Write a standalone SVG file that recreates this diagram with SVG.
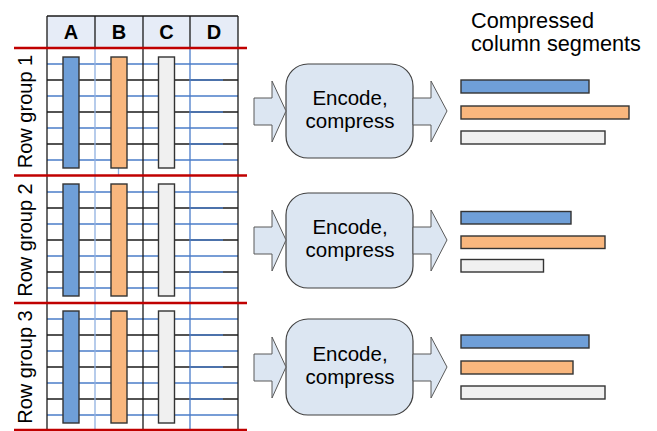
<svg xmlns="http://www.w3.org/2000/svg" width="657" height="431" viewBox="0 0 657 431">
<style>
.hdr{fill:#e6ecf7;stroke:none}
.blk{stroke:#1a1a1a;stroke-width:1.3}
.lb{stroke:#8fb0e0;stroke-width:1.3}
.db{stroke:#4a7cc9;stroke-width:1.3}
.red{stroke:#c00000;stroke-width:2.5}
.a{fill:#6f9fd8;stroke:#333;stroke-width:1.4}
.b{fill:#f9b77e;stroke:#333;stroke-width:1.4}
.c{fill:#f0f0f0;stroke:#333;stroke-width:1.4}
.col{font-family:"Liberation Sans",Arial,sans-serif;font-weight:bold;font-size:20px;text-anchor:middle;fill:#000}
.rg{font-family:"Liberation Sans",Arial,sans-serif;font-size:20px;text-anchor:middle;fill:#000}
.box{fill:#dce6f2;stroke:#404040;stroke-width:1.2}
.bt{font-family:"Liberation Sans",Arial,sans-serif;font-size:20.5px;text-anchor:middle;fill:#000}
.arr{fill:#dce6f2;stroke:#595959;stroke-width:1}
.title{font-family:"Liberation Sans",Arial,sans-serif;font-size:21.7px;fill:#000}
</style>

<g id="table">
<rect class="hdr" x="47" y="16" width="191" height="32"/>
<line class="blk" x1="47" y1="16" x2="238" y2="16"/>
<g id="row-lines">
<line class="db" x1="47" y1="64" x2="238" y2="64"/>
<line class="blk" x1="47" y1="80" x2="238" y2="80"/>
<line class="db" x1="190" y1="80" x2="223" y2="80"/>
<line class="db" x1="47" y1="96" x2="238" y2="96"/>
<line class="blk" x1="47" y1="112" x2="238" y2="112"/>
<line class="db" x1="190" y1="112" x2="223" y2="112"/>
<line class="db" x1="47" y1="128" x2="238" y2="128"/>
<line class="blk" x1="47" y1="144" x2="238" y2="144"/>
<line class="db" x1="190" y1="144" x2="223" y2="144"/>
<line class="db" x1="47" y1="160" x2="238" y2="160"/>
<line class="db" x1="47" y1="192" x2="238" y2="192"/>
<line class="blk" x1="47" y1="208" x2="238" y2="208"/>
<line class="db" x1="190" y1="208" x2="223" y2="208"/>
<line class="db" x1="47" y1="224" x2="238" y2="224"/>
<line class="blk" x1="47" y1="240" x2="238" y2="240"/>
<line class="db" x1="190" y1="240" x2="223" y2="240"/>
<line class="db" x1="47" y1="256" x2="238" y2="256"/>
<line class="blk" x1="47" y1="272" x2="238" y2="272"/>
<line class="db" x1="190" y1="272" x2="223" y2="272"/>
<line class="db" x1="47" y1="288" x2="238" y2="288"/>
<line class="db" x1="47" y1="319" x2="238" y2="319"/>
<line class="blk" x1="47" y1="335" x2="238" y2="335"/>
<line class="db" x1="190" y1="335" x2="223" y2="335"/>
<line class="db" x1="47" y1="351" x2="238" y2="351"/>
<line class="blk" x1="47" y1="367" x2="238" y2="367"/>
<line class="db" x1="190" y1="367" x2="223" y2="367"/>
<line class="db" x1="47" y1="383" x2="238" y2="383"/>
<line class="blk" x1="47" y1="399" x2="238" y2="399"/>
<line class="db" x1="190" y1="399" x2="223" y2="399"/>
<line class="db" x1="47" y1="415" x2="238" y2="415"/>
</g>
<g id="col-lines">
<line class="lb" x1="95" y1="48" x2="95" y2="431"/>
<line class="db" x1="190" y1="48" x2="190" y2="431"/>
<line class="lb" x1="118.5" y1="168" x2="118.5" y2="175"/>
<line class="blk" x1="95" y1="16" x2="95" y2="48"/>
<line class="blk" x1="190" y1="16" x2="190" y2="48"/>
<line class="blk" x1="47" y1="16" x2="47" y2="431"/>
<line class="blk" x1="143" y1="16" x2="143" y2="431"/>
<line class="blk" x1="238" y1="16" x2="238" y2="431"/>
</g>
<text class="col" x="71" y="39">A</text>
<text class="col" x="119" y="39">B</text>
<text class="col" x="166.5" y="39">C</text>
<text class="col" x="214" y="39">D</text>
<g id="red-lines">
<line class="red" x1="14" y1="48" x2="247" y2="48"/>
<line class="red" x1="14" y1="175.5" x2="247" y2="175.5"/>
<line class="red" x1="14" y1="303" x2="247" y2="303"/>
<line class="red" x1="14" y1="430" x2="247" y2="430"/>
</g>
</g>

<g id="rowgroup1">
<text class="rg" transform="translate(31.5,111.5) rotate(-90)">Row group 1</text>
<rect class="a" x="63" y="57" width="16" height="111"/>
<rect class="b" x="111" y="57" width="16" height="111"/>
<rect class="c" x="158.5" y="57" width="16" height="111"/>
</g>
<g id="rowgroup2">
<text class="rg" transform="translate(31.5,240) rotate(-90)">Row group 2</text>
<rect class="a" x="63" y="184" width="16" height="112"/>
<rect class="b" x="111" y="184" width="16" height="112"/>
<rect class="c" x="158.5" y="184" width="16" height="112"/>
</g>
<g id="rowgroup3">
<text class="rg" transform="translate(31.5,367) rotate(-90)">Row group 3</text>
<rect class="a" x="63" y="311" width="16" height="112"/>
<rect class="b" x="111" y="311" width="16" height="112"/>
<rect class="c" x="158.5" y="311" width="16" height="112"/>
</g>

<g id="encode1">
<rect class="box" x="286" y="64" width="127" height="94" rx="22"/>
<text class="bt" x="350" y="104.5">Encode,</text>
<text class="bt" x="350" y="127.5">compress</text>
</g>
<g id="encode2">
<rect class="box" x="286" y="193" width="127" height="95" rx="22"/>
<text class="bt" x="350" y="233.5">Encode,</text>
<text class="bt" x="350" y="256.5">compress</text>
</g>
<g id="encode3">
<rect class="box" x="286" y="319" width="127" height="96" rx="22"/>
<text class="bt" x="350" y="360.5">Encode,</text>
<text class="bt" x="350" y="383.5">compress</text>
</g>

<g id="connectors">
<polygon class="arr" points="254,98 272,98 272,81 286,111 272,142 272,125 254,125"/>
<polygon class="arr" points="413,98 431,98 431,81 447,111 431,142 431,125 413,125"/>
<polygon class="arr" points="254,227 272,227 272,210 286,240 272,271 272,254 254,254"/>
<polygon class="arr" points="413,227 431,227 431,210 447,240 431,271 431,254 413,254"/>
<polygon class="arr" points="254,354 272,354 272,337 286,367 272,398 272,381 254,381"/>
<polygon class="arr" points="413,354 431,354 431,337 447,367 431,398 431,381 413,381"/>
</g>

<g id="segments-title">
<text class="title" x="471" y="27.5">Compressed</text>
<text class="title" x="471" y="51">column segments</text>
</g>
<g id="segments1">
<rect class="a" x="461" y="80" width="128" height="13"/>
<rect class="b" x="461" y="106" width="168" height="13"/>
<rect class="c" x="461" y="131" width="144" height="13"/>
</g>
<g id="segments2">
<rect class="a" x="461" y="211.5" width="110" height="12.5"/>
<rect class="b" x="461" y="236" width="144" height="12.5"/>
<rect class="c" x="461" y="259.5" width="82.5" height="12.5"/>
</g>
<g id="segments3">
<rect class="a" x="461" y="335" width="128" height="13"/>
<rect class="b" x="461" y="361" width="112" height="13"/>
<rect class="c" x="461" y="386" width="144" height="13"/>
</g>
</svg>
